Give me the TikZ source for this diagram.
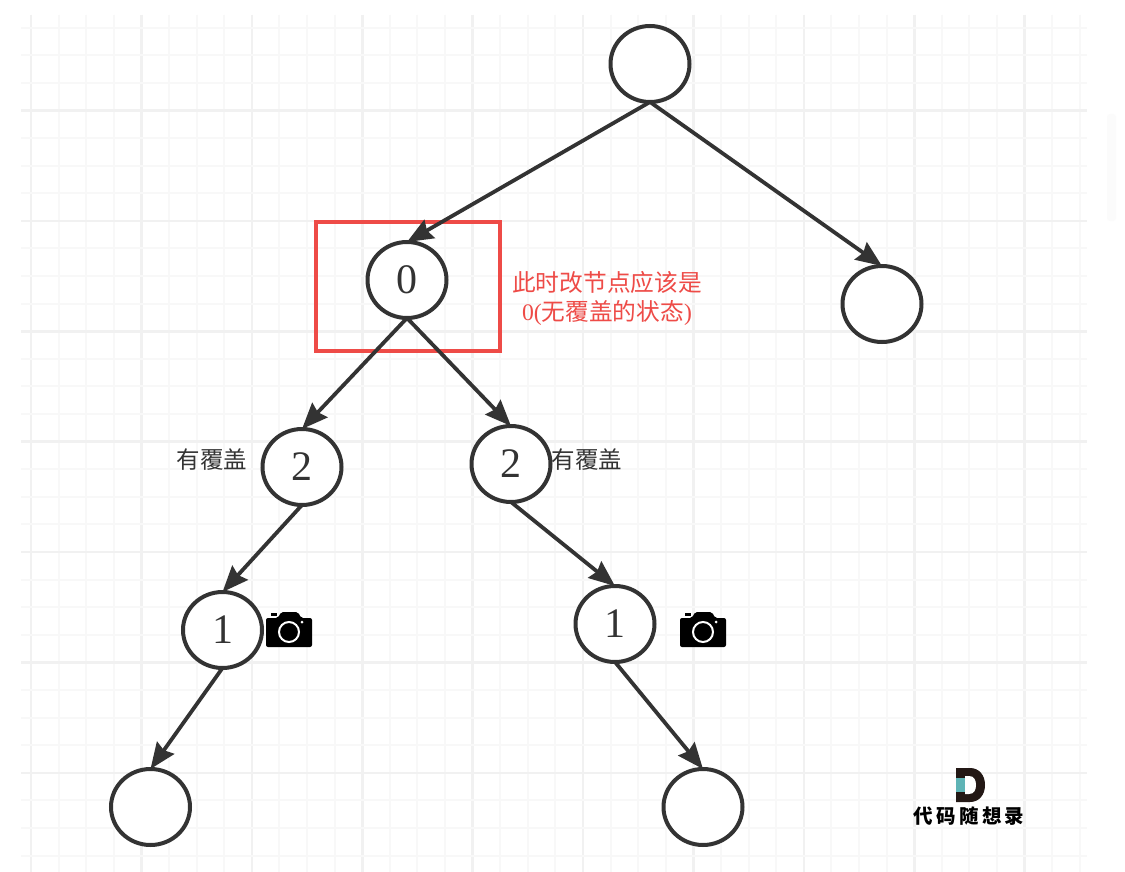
\documentclass[tikz,border=0pt]{standalone}
\usepackage{fontspec}
\setmainfont{Liberation Serif}
\newfontfamily\cjk{Noto Sans CJK SC}
\usepackage{xcolor}
\usetikzlibrary{arrows.meta,shapes.geometric}
\definecolor{inkdark}{HTML}{333333}
\definecolor{markred}{HTML}{EE4B47}
\definecolor{gridmajor}{HTML}{F1F1F1}
\definecolor{gridminor}{HTML}{F8F8F8}
\definecolor{logoteal}{HTML}{5FB4B6}
\definecolor{logoink}{HTML}{231815}

\begin{document}
\begin{tikzpicture}[
    x=1pt, y=-1pt,
    treenode/.style={ellipse, draw=inkdark, line width=4pt, fill=white, text=inkdark,
                     minimum width=79pt, minimum height=76pt, inner sep=0pt, outer sep=0pt,
                     font=\fontsize{42}{42}\selectfont},
    flow/.style={-{Stealth[length=26pt,width=21pt,inset=3pt]}, line width=3.8pt, draw=inkdark},
    markbox/.style={draw=markred, line width=3.4pt, minimum width=184pt, minimum height=129pt,
                    inner sep=0pt, outer sep=0pt},
    notelbl/.style={text=markred, align=center, inner sep=0pt,
                    font=\fontsize{23.7}{29}\selectfont},
    coverlbl/.style={text=inkdark, inner sep=0pt, font=\fontsize{23.5}{23.5}\selectfont\cjk},
    gridline/.style={draw=gridminor, line width=2pt},
    gridbold/.style={draw=gridmajor, line width=2.6pt},
    camera/.pic={
      \fill[black, rounded corners=2pt] (0,6) -- (12,6) -- (15,0) -- (32,0) -- (35,6) -- (46,6)
            -- (46,35) -- (0,35) -- cycle;
      \fill[black] (5,1) rectangle (11,4);
      \draw[white, line width=2pt] (23,20) circle[radius=10pt];
      \fill[white] (36,10) circle[radius=1.5pt];
    },
  ]
  \useasboundingbox (0,0) rectangle (1125,872);
  \fill[white] (0,0) rectangle (1125,872);

  % grid
  \foreach \i in {0,...,38} {
    \pgfmathsetmacro{\xx}{31+27.6*\i}
    \pgfmathparse{int(mod(\i,4))}
    \ifnum\pgfmathresult=0
      \draw[gridbold] (\xx,15) -- (\xx,872);
    \else
      \draw[gridline] (\xx,15) -- (\xx,872);
    \fi
  }
  \foreach \j in {1,...,31} {
    \pgfmathsetmacro{\yy}{27.6*\j}
    \pgfmathparse{int(mod(\j,4))}
    \ifnum\pgfmathresult=0
      \draw[gridbold] (21,\yy) -- (1087,\yy);
    \else
      \draw[gridline] (21,\yy) -- (1087,\yy);
    \fi
  }
  \fill[gridminor!50, rounded corners=3pt] (1107,114) rectangle (1116,221);

  \node[markbox] (mark) at (408,286.5) {};

  % tree
  \node[treenode] (root) at (650,64) {};
  \node[treenode] (zero) at (407,280) {\raisebox{1.5pt}{0}};
  \node[treenode] (rightleaf) at (882,304) {};
  \node[treenode] (twoleft) at (302,467) {\raisebox{-1pt}{2}};
  \node[treenode] (tworight) at (511,464) {2};
  \node[treenode] (oneleft) at (222.5,630) {\raisebox{1pt}{1}};
  \node[treenode] (oneright) at (615,624) {1};
  \node[treenode] (leafleft) at (150.5,807) {};
  \node[treenode] (leafright) at (703,807) {};

  \draw[flow] (root.south) -- (zero.north);
  \draw[flow] (root.south) -- (rightleaf.north);
  \draw[flow] (zero.south) -- (twoleft.north);
  \draw[flow] (zero.south) -- (tworight.north);
  \draw[flow] (twoleft.south) -- (oneleft.north);
  \draw[flow] (tworight.south) -- (oneright.north);
  \draw[flow] (oneleft.south) -- (leafleft.north);
  \draw[flow] (oneright.south) -- (leafright.north);

  % labels
  \node[notelbl] (note) at (607,298) {{\cjk 此时改节点应该是}\\0({\cjk 无覆盖的状态})};
  \node[coverlbl] (coverleft) at (212,460) {有覆盖};
  \node[coverlbl] (coverright) at (587,460) {有覆盖};

  \pic at (266,612) {camera};
  \pic at (680,612) {camera};

  % logo
  \fill[logoink] (956,768) -- (970,768) .. controls (979,768) and (985,775) .. (985,785)
        .. controls (985,795) and (979,802) .. (970,802) -- (956,802) -- cycle;
  \fill[white] (965,776) -- (969,776) .. controls (974,776) and (976,780) .. (976,785)
        .. controls (976,790) and (974,794) .. (969,794) -- (965,794) -- cycle;
  \fill[logoteal] (956,778) rectangle (965,792);
  \node[inner sep=0pt, text=black, font=\fontsize{19.5}{20}\selectfont\cjk\bfseries] (logotext) at (969,816) {代\,码\,随\,想\,录};
\end{tikzpicture}
\end{document}
